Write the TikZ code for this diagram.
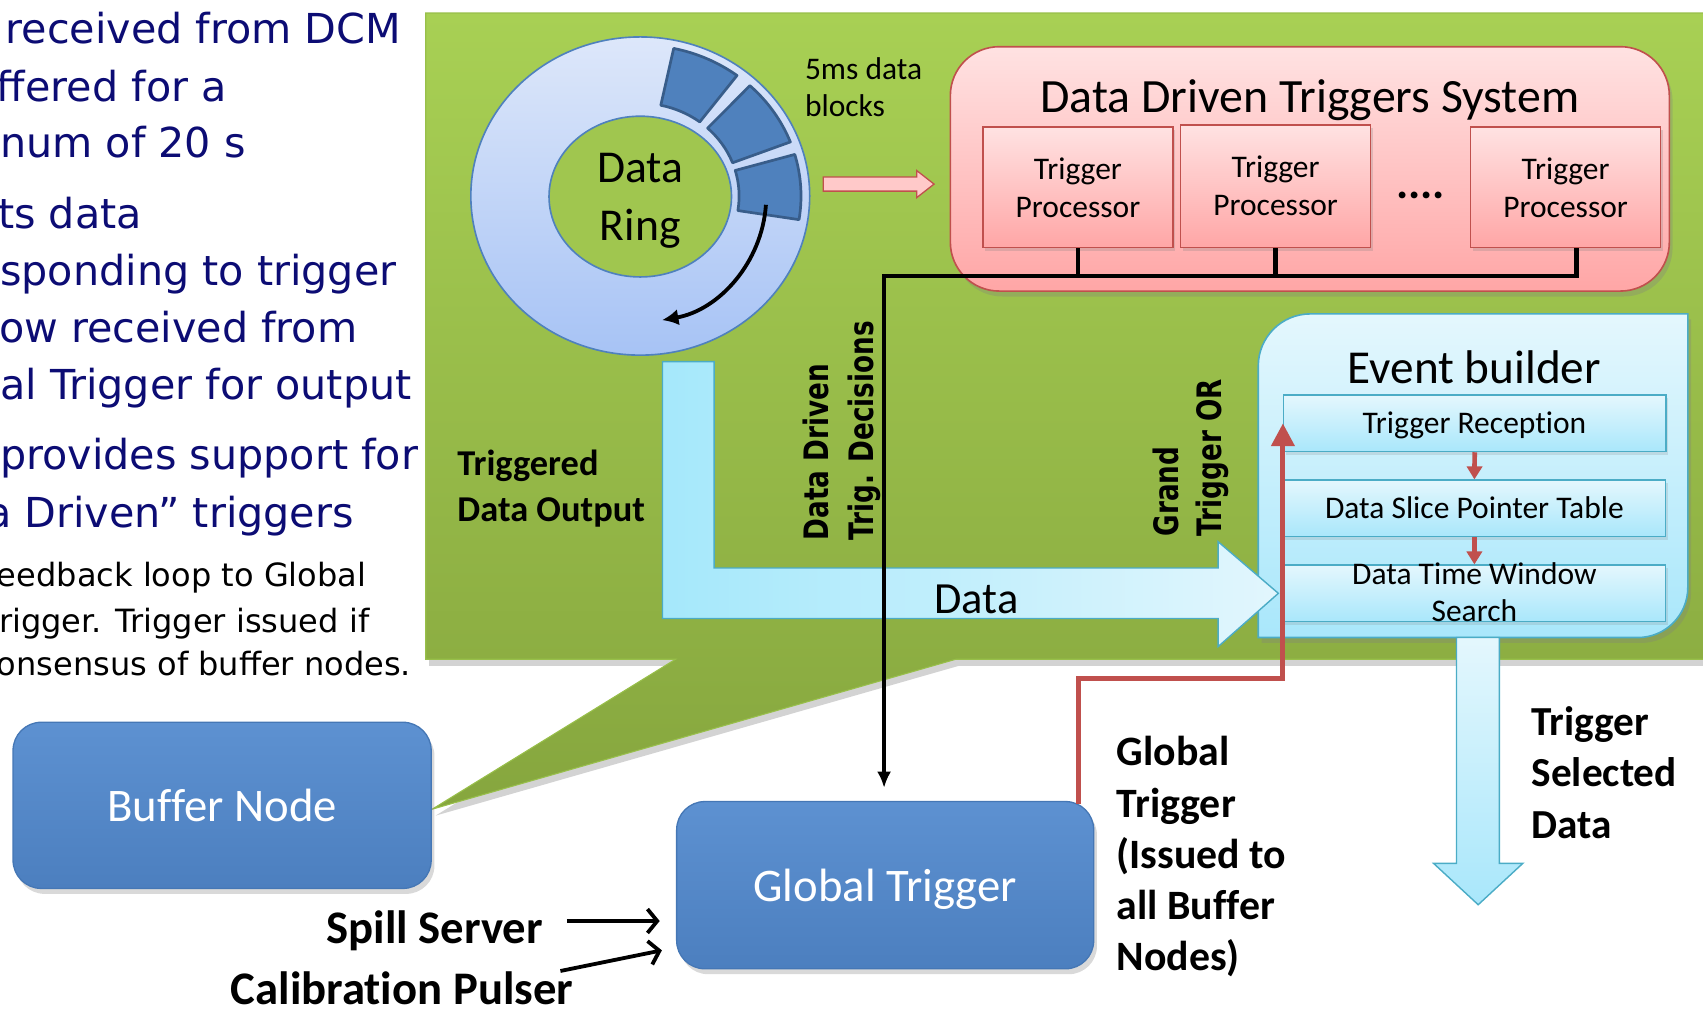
\documentclass[tikz,border=0pt]{standalone}
\usepackage{fontspec}
\usepackage{graphicx}
\setmainfont{Carlito}[Ligatures={TeX,NoCommon}]
\newfontfamily\verdfont{DejaVu Sans}
\usetikzlibrary{arrows.meta,shadows,calc,shapes.geometric}

\newcommand{\setfs}[2]{\fontsize{#1}{#2}\selectfont}

\definecolor{navy}{HTML}{0C0C74}
\definecolor{gtop}{HTML}{A8D054}
\definecolor{gbot}{HTML}{86A63E}
\definecolor{gedge}{HTML}{98BF4A}
\definecolor{hubgreen}{HTML}{A0C64F}
\definecolor{ringtop}{HTML}{DDE7FA}
\definecolor{ringbot}{HTML}{A7C3F5}
\definecolor{accent}{HTML}{4F81BD}
\definecolor{blockedge}{HTML}{385D8A}
\definecolor{pinktop}{HTML}{FFE2E2}
\definecolor{pinkbot}{HTML}{FFA6A6}
\definecolor{pinkfill}{HTML}{FFC9C9}
\definecolor{redline}{HTML}{C0504D}
\definecolor{cyantop}{HTML}{E4F7FD}
\definecolor{cyanbot}{HTML}{A9E7FB}
\definecolor{cyanleft}{HTML}{A5E8FB}
\definecolor{cyanright}{HTML}{E2F6FD}
\definecolor{cyanedge}{HTML}{4BACC6}
\definecolor{nodetop}{HTML}{5D91D1}
\definecolor{nodebot}{HTML}{4C7FBF}
\definecolor{nodeedge}{HTML}{4577B5}

\begin{document}
\begin{tikzpicture}[x=1pt,y=-1pt,
  lefttext/.style={anchor=base west, inner sep=0pt, text=navy, font=\verdfont\setfs{38}{46}},
  subtext/.style={anchor=base west, inner sep=0pt, text=black, font=\verdfont\setfs{29.5}{36}},
  softshadow/.style={drop shadow={opacity=0.3, shadow xshift=3pt, shadow yshift=-5pt}},
  bluebox/.style={rectangle, rounded corners=26pt, top color=nodetop, bottom color=nodebot,
    draw=nodeedge, line width=1.2pt, text=white, font=\setfs{43}{52}, text depth=0pt, softshadow},
  procbox/.style={rectangle, top color=pinktop, bottom color=pinkbot, draw=redline,
    line width=1.2pt, align=center, font=\setfs{29}{35}, minimum width=175pt,
    minimum height=111pt, inner sep=0pt,
    drop shadow={opacity=0.25, shadow xshift=2pt, shadow yshift=-3pt}},
  rowbox/.style={rectangle, top color=cyantop, bottom color=cyanbot, draw=cyanedge,
    line width=1.2pt, minimum width=352pt, minimum height=52pt, inner sep=0pt,
    drop shadow={opacity=0.2, shadow xshift=2pt, shadow yshift=-3pt}},
  rowtext/.style={font=\setfs{29}{34.7}, align=center, inner sep=0pt},
  boldlabel/.style={font=\bfseries\setfs{38}{47.5}, align=left, inner sep=0pt, anchor=north west},
  rotlabel/.style={font=\verdfont\bfseries\setfs{31}{38}, rotate=90, anchor=base west, inner sep=0pt},
  bus/.style={line width=4pt, black},
  gline/.style={line width=4.5pt, redline, -{Triangle[length=21pt,width=21pt]}},
  smallred/.style={line width=4.3pt, redline, -{Triangle[length=12pt,width=14pt]}},
  inarrow/.style={line width=3.5pt, black, -{Straight Barb[length=9pt,width=22pt]}},
  cyanarrow/.style={draw=cyanedge, line width=1.3pt}
]
\useasboundingbox (0,0) rectangle (1568,933);
\clip (0,0) rectangle (1568,933);

% ---------- explanatory text on the left ----------
\node[lefttext] (t1) at (5,40) {received from DCM};
\node[lefttext] (t2) at (-3,93) {ffered for a};
\node[lefttext] (t3) at (0,145) {num of 20 s};
\node[lefttext] (t4) at (-2,210) {ts data};
\node[lefttext] (t5) at (0,263) {sponding to trigger};
\node[lefttext] (t6) at (-1,315) {ow received from};
\node[lefttext] (t7) at (0,368) {al Trigger for output};
\node[lefttext] (t8) at (0,432) {provides support for};
\node[lefttext] (t9) at (-13,486) {a Driven” triggers};
\node[subtext] (t10) at (-3,540) {eedback loop to Global};
\node[subtext] (t11) at (-1,582) {rigger. Trigger issued if};
\node[subtext] (t12) at (-3,622) {onsensus of buffer nodes.};

% ---------- green callout (buffer node detail) ----------
\path[top color=gtop, bottom color=gbot, draw=gedge, line width=1pt,
      drop shadow={opacity=0.35, shadow xshift=3pt, shadow yshift=-6pt}]
  (392,12) -- (1600,12) -- (1600,607) -- (880,607) -- (398,745) -- (622,607)
  -- (392,607) -- cycle;

% ---------- data ring ----------
\node[ellipse, minimum width=312pt, minimum height=293pt, inner sep=0pt,
      top color=ringtop, bottom color=ringbot, draw=accent, line width=1.5pt] (ring) at (589.5,180.5) {};
\node[ellipse, minimum width=168pt, minimum height=148pt, inner sep=0pt,
      fill=hubgreen, draw=accent, line width=1.5pt] (hub) at (589.5,181) {};
\begin{scope}[shift={(ring.center)}, yscale=0.939]
  \foreach \a/\b in {78/53, 47/21, 16/-9}{
    \draw[fill=accent, draw=blockedge, line width=2.5pt, line join=round]
      (-\a:91) -- (-\a:148) arc[start angle=-\a, end angle=-\b, radius=148]
      -- (-\b:91) arc[start angle=-\b, end angle=-\a, radius=91] -- cycle;
  }
\end{scope}
\node[font=\setfs{42}{53}, align=center, inner sep=0pt] (ringlabel) at (589.5,185) {Data\\Ring};
\draw[line width=3.5pt, -{Latex[length=15pt,width=15pt]}]
  (ring.center) ++(4:116) arc[start angle=4, end angle=80, radius=116];

\node[font=\setfs{29}{34}, align=left, inner sep=0pt, anchor=north west] (blk) at (741,53) {5ms data\\blocks};
\path[fill=pinkfill, draw=redline, line width=1.2pt]
  (758,163) -- (844,163) -- (844,157) -- (860,169.5) -- (844,182) -- (844,176) -- (758,176) -- cycle;

% ---------- data driven triggers system ----------
\node[rectangle, rounded corners=45pt, minimum width=662pt, minimum height=225pt, inner sep=0pt,
      top color=pinktop, bottom color=pinkbot, draw=redline, line width=1.5pt, softshadow] (ddt) at (1206,155.5) {};
\node[font=\setfs{44}{50}, anchor=base, inner sep=0pt] (ddttitle) at (1206,104) {Data Driven Triggers System};
\node[procbox] (p1) at (992.5,172.5) {Trigger\\Processor};
\node[procbox, minimum height=113pt] (p2) at (1174.5,171.5) {Trigger\\Processor};
\node[procbox] (p3) at (1441.5,172.5) {Trigger\\Processor};
\node[font=\bfseries\setfs{42}{42}, anchor=base, inner sep=0pt] (dots) at (1308,183) {....};

% ---------- event builder ----------
\path[top color=cyantop, bottom color=cyanbot, draw=cyanedge, line width=1.5pt, softshadow]
  (1158.5,587) -- (1158.5,337) arc[start angle=180, end angle=270, radius=48]
  -- (1554,289) -- (1554,541) arc[start angle=0, end angle=90, radius=46] -- cycle;
\node[font=\setfs{43.5}{50}, anchor=base, inner sep=0pt] (ebtitle) at (1357.5,352.8) {Event builder};
\node[rowbox] (r1) at (1357.8,389.8) {};
\node[rowbox] (r2) at (1357.5,468) {};
\node[rowbox] (r3) at (1357.5,546.3) {};
\node[rowtext, anchor=base] (r1t) at (1357.5,399) {Trigger Reception};
\node[rowtext, anchor=base] (r2t) at (1357.5,477.3) {Data Slice Pointer Table};
\node[rowtext] (r3t) at (1357.5,545.3) {Data Time Window\\Search};
\draw[smallred] (r1.south) -- (r2.north);
\draw[smallred] (r2.south) -- (r3.north);

% ---------- data flow arrows ----------
\path[left color=cyanleft, right color=cyanright, cyanarrow]
  (610,333) -- (657.5,333) -- (657.5,523) -- (1121.5,523) -- (1121.5,498.7)
  -- (1177,546.3) -- (1121.5,595.4) -- (1121.5,569.5) -- (610,569.5) -- cycle;
\node[font=\setfs{41}{48}, anchor=base, inner sep=0pt] (datalbl) at (899,564.7) {Data};

\path[top color=cyantop, bottom color=cyanbot, cyanarrow]
  (1341,587) -- (1380.5,587) -- (1380.5,795) -- (1402,795) -- (1361,833)
  -- (1320,795) -- (1341,795) -- cycle;
\node[boldlabel] (tsd) at (1410,650) {Trigger\\Selected\\Data};

% ---------- labels inside the callout ----------
\node[font=\bfseries\setfs{33.5}{42}, align=left, inner sep=0pt, anchor=north west] (tdo) at (421,414) {Triggered\\Data Output};
\node[rotlabel] (ddl1) at (763,497.8) {\scalebox{0.78}[1]{Data Driven}};
\node[rotlabel] (ddl2) at (804,497.8) {\scalebox{0.78}[1]{Trig. Decisions}};
\node[rotlabel] (gto1) at (1085,494) {\scalebox{0.78}[1]{Grand}};
\node[rotlabel] (gto2) at (1125,494) {\scalebox{0.78}[1]{Trigger OR}};

% ---------- trigger decision bus ----------
\coordinate (busL) at (814,254);
\draw[bus] (p1.south) -- (p1.south |- busL);
\draw[bus] (p2.south) -- (p2.south |- busL);

% ---------- buffer node and global trigger ----------
\node[bluebox, minimum width=385pt, minimum height=153pt] (buf) at (204.5,741.5) {Buffer Node};
\node[bluebox, minimum width=384pt, minimum height=154pt] (gt) at (815,815) {Global Trigger};

\draw[bus, -{Latex[length=15pt,width=13pt]}, shorten >=12pt]
  ($(p3.south)+(10,0)$) |- (busL) -- (busL |- gt.north);

% global trigger fed back to the event builders
\draw[gline] ($(gt.north east)+(-15,2.4)$) -- ++(0,-114.8) -| (r1.west);

\node[boldlabel, font=\bfseries\setfs{38.5}{47.2}] (gtl) at (1028,678) {Global\\Trigger\\(Issued to\\all Buffer\\Nodes)};

\node[font=\bfseries\setfs{43}{50}, anchor=base east, inner sep=0pt] (spill) at (500,869) {Spill Server};
\node[font=\bfseries\setfs{43}{50}, anchor=base east, inner sep=0pt] (cal) at (528,925) {Calibration Pulser};
\draw[inarrow] ($(spill.base east)+(22,-21)$) -- ($(gt.west |- spill.base)+(-15,-21)$);
\draw[inarrow] ($(cal.base east)+(-12,-31)$) -- ($(gt.west)+(-13,60)$);
\end{tikzpicture}
\end{document}
